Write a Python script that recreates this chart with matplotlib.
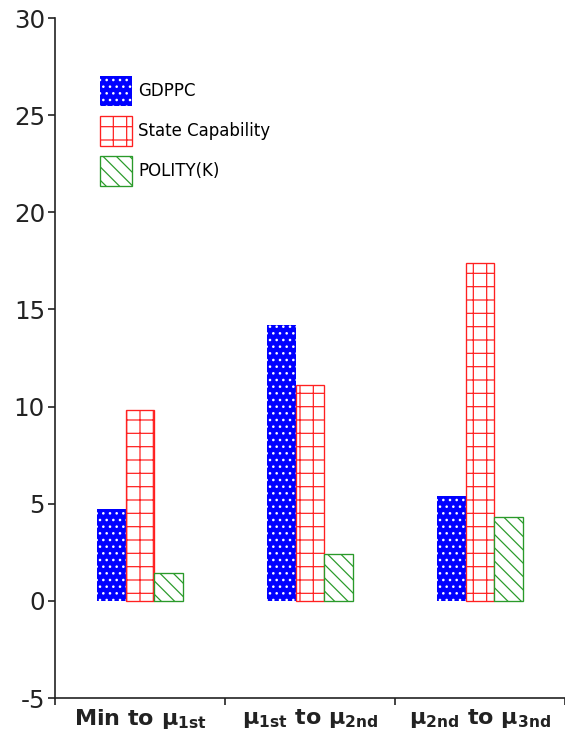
import matplotlib
matplotlib.use("Agg")
import matplotlib.pyplot as plt
import numpy as np

categories = ["Min to μ$_{\\mathbf{1st}}$", "μ$_{\\mathbf{1st}}$ to μ$_{\\mathbf{2nd}}$", "μ$_{\\mathbf{2nd}}$ to μ$_{\\mathbf{3nd}}$"]
series_names = ["GDPPC", "State Capability", "POLITY(K)"]
gdppc = [4.75, 14.2, 5.4]
state_cap = [9.82, 11.1, 17.4]
polity = [1.45, 2.4, 4.3]
yticks = [-5, 0, 5, 10, 15, 20, 25, 30]

plt.rcParams['axes.unicode_minus'] = False
plt.rcParams['hatch.linewidth'] = 1.1

DPI = 80
fig = plt.figure(figsize=(565 / DPI, 742 / DPI), dpi=DPI)
ax = fig.add_axes([55 / 565, 44 / 742, 1 - 55 / 565, (724 - 44) / 742])

x = np.arange(len(categories))
w = 0.167

ax.bar(x - w, gdppc, w, color='#0000ff', edgecolor='white', linewidth=0, hatch='..', label=series_names[0])
ax.bar(x, state_cap, w, facecolor='white', edgecolor='#ff2020', linewidth=1.2, hatch='+', label=series_names[1])
ax.bar(x + w, polity, w, facecolor='white', edgecolor='#2a9a2a', linewidth=1.2, hatch='\\\\', label=series_names[2])

ax.set_xlim(-0.5, 2.5)
ax.set_ylim(-5, 30)
ax.set_yticks(yticks)
ax.set_yticklabels([str(v) for v in yticks], fontsize=22, color='#222222')
ax.tick_params(axis='y', direction='out', length=6, width=1.5, pad=3, colors='#222222')

ax.set_xticks(x)
ax.set_xticklabels(categories, fontsize=20, fontweight='bold', color='#222222')
ax.tick_params(axis='x', which='major', length=0, pad=8)
ax.set_xticks([-0.5, 0.5, 1.5, 2.5], minor=True)
ax.tick_params(axis='x', which='minor', direction='out', length=6, width=1.5, color='#222222')

for s in ['top', 'right']:
    ax.spines[s].set_visible(False)
for s in ['left', 'bottom']:
    ax.spines[s].set_linewidth(1.5)
    ax.spines[s].set_color('#222222')

fs = 15
fpx = fs * DPI / 72
hh = (30 / fpx - 0.245) / 0.65
fig.legend(loc='upper left', bbox_to_anchor=(100 / 565, 1 - 76 / 742), bbox_transform=fig.transFigure,
           frameon=False, fontsize=fs, borderpad=0, borderaxespad=0,
           handlelength=32 / fpx, handleheight=hh, labelspacing=10 / fpx, handletextpad=6 / fpx)

fig.savefig("out.png", dpi=DPI, facecolor='white')
